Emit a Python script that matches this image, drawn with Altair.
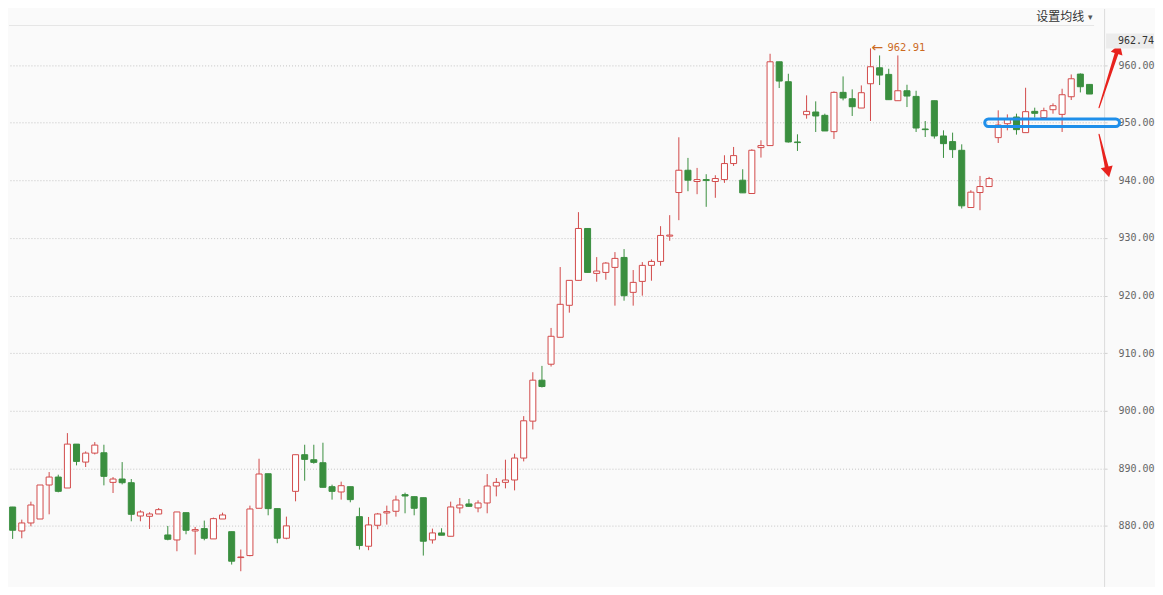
import altair as alt
import pandas as pd
import numpy as np

# ---- candle data ----
opens = [883.28, 879.12, 880.51, 881.20, 887.10, 888.48, 886.58, 894.20, 891.08, 892.64,
         892.70, 887.56, 888.14, 887.50, 881.72, 881.67, 882.07, 878.43, 877.56, 882.30,
         879.12, 879.53, 877.74, 881.20, 879.00, 874.50, 874.85, 883.06, 889.06, 883.00,
         877.86, 886.00, 892.36, 891.49, 890.97, 886.81, 885.89, 886.81, 881.61, 876.47,
         880.11, 882.25, 882.54, 885.43, 885.08, 884.90, 877.57, 878.78, 878.20, 883.12,
         883.81, 883.12, 883.98, 886.93, 887.56, 887.97, 891.78, 898.19, 905.30, 908.07,
         912.75, 918.30, 922.63, 931.64, 923.84, 924.01, 924.88, 926.61, 920.55, 922.45,
         925.23, 925.92, 930.31, 937.88, 941.75, 939.79, 940.13, 939.79, 940.13, 942.91,
         940.02, 937.71, 945.68, 946.03, 960.58, 957.12, 946.66, 951.40, 951.86, 951.28,
         948.45, 955.27, 954.17, 952.55, 956.77, 959.54, 958.39, 953.82, 955.55, 954.57,
         948.91, 953.82, 947.70, 946.72, 945.21, 935.28, 937.88, 938.92, 947.41, 949.83,
         950.99, 948.28, 951.97, 950.88, 952.26, 951.45, 954.51, 958.44, 956.65]
highs = [883.30, 881.09, 884.21, 887.10, 889.35, 888.89, 896.11, 894.20, 892.93, 894.55,
         894.09, 888.48, 891.08, 888.14, 882.71, 882.36, 883.11, 879.99, 882.42, 882.30,
         879.82, 880.92, 881.44, 882.30, 879.00, 875.90, 883.52, 891.66, 889.06, 883.00,
         881.61, 892.36, 894.09, 894.09, 894.44, 887.16, 887.68, 886.81, 883.17, 881.55,
         882.25, 883.52, 885.25, 885.77, 885.08, 884.90, 879.53, 879.59, 884.21, 884.85,
         884.67, 884.44, 889.00, 888.31, 891.49, 892.53, 899.06, 906.68, 907.78, 914.37,
         924.94, 922.63, 934.47, 931.64, 926.67, 925.80, 927.54, 928.06, 924.42, 925.80,
         926.27, 932.04, 933.95, 947.47, 943.89, 942.15, 941.06, 940.88, 944.35, 945.79,
         941.92, 945.39, 946.95, 961.97, 960.58, 958.50, 947.99, 954.75, 953.71, 951.57,
         955.44, 958.04, 955.79, 956.48, 962.91, 961.68, 959.37, 961.68, 956.59, 955.55,
         950.30, 953.82, 948.68, 948.28, 946.25, 938.28, 940.76, 940.59, 952.15, 951.45,
         951.57, 956.07, 952.61, 952.61, 953.36, 955.90, 958.38, 958.56, 956.65]
lows = [877.74, 877.85, 879.93, 881.20, 882.01, 885.83, 886.58, 890.51, 890.22, 892.41,
        887.04, 885.71, 887.21, 880.80, 880.80, 879.47, 882.07, 877.50, 875.60, 878.55,
        875.02, 877.50, 877.74, 881.20, 873.29, 872.13, 874.73, 883.06, 881.84, 876.99,
        877.68, 884.27, 887.85, 890.80, 886.70, 884.56, 884.56, 884.10, 875.89, 875.78,
        879.42, 880.23, 881.61, 882.19, 881.84, 874.85, 876.93, 878.38, 878.20, 882.19,
        883.29, 882.36, 882.19, 885.13, 886.52, 886.17, 891.20, 896.75, 904.03, 907.67,
        912.75, 917.02, 922.63, 924.01, 922.40, 922.74, 918.24, 919.10, 918.24, 919.97,
        922.57, 925.17, 929.50, 933.08, 938.11, 937.59, 935.40, 936.96, 939.56, 942.50,
        937.82, 937.71, 943.95, 946.03, 956.02, 946.55, 945.10, 950.70, 948.39, 948.57,
        947.18, 953.88, 951.17, 952.55, 950.30, 956.54, 954.00, 953.82, 952.72, 948.39,
        947.52, 947.24, 943.89, 943.89, 935.10, 935.28, 934.81, 938.92, 946.48, 948.68,
        947.93, 948.28, 950.88, 950.70, 951.57, 948.39, 953.94, 955.26, 954.98]
closes = [879.24, 880.51, 883.63, 887.10, 888.48, 886.00, 894.20, 891.20, 892.64, 894.03,
          888.60, 888.14, 887.50, 882.01, 882.42, 882.07, 882.82, 877.68, 882.42, 879.24,
          879.36, 877.85, 881.26, 881.90, 873.87, 874.60, 882.94, 889.01, 883.00, 877.86,
          880.00, 892.36, 891.55, 891.03, 886.70, 886.00, 886.98, 884.56, 876.59, 880.17,
          882.07, 882.48, 884.50, 885.19, 883.06, 877.34, 878.78, 878.38, 883.29, 883.63,
          883.40, 883.98, 886.93, 887.56, 887.97, 891.78, 898.25, 905.30, 904.20, 912.92,
          918.47, 922.63, 931.64, 924.01, 924.25, 925.63, 926.44, 919.97, 922.28, 925.23,
          925.92, 930.43, 930.49, 941.75, 940.02, 940.13, 939.96, 940.31, 942.91, 944.29,
          937.82, 945.22, 946.03, 960.58, 957.23, 946.66, 946.55, 951.97, 951.17, 948.57,
          955.27, 954.29, 952.78, 955.21, 959.72, 958.27, 954.00, 955.55, 954.63, 949.08,
          948.80, 947.70, 946.37, 945.33, 935.57, 937.94, 938.92, 940.30, 949.60, 950.70,
          948.80, 951.92, 951.63, 952.09, 952.95, 954.86, 957.63, 956.25, 954.98]

y_ticks = [880, 890, 900, 910, 920, 930, 940, 950, 960]
max_label = "962.91"
max_index = 94
max_value = 962.91
current_label = "962.74"
toolbar_label = "设置均线"

# annotation geometry (index units / price units)
box_x = [106.52, 121.29]
box_y = [950.63, 949.35]
arrow_id = ["a", "a", "b", "b"]
arrow_k = [119.05, 121.10, 119.05, 119.98]
arrow_v = [952.62, 962.70, 947.99, 941.70]
arrow_w = [1.2, 4.0, 1.2, 4.0]
head_k = [121.15, 120.02]
head_v = [962.88, 941.44]
head_ang = [17.9, 166.8]

RED = "#d24a4a"
GREEN = "#3a8f3f"
ORANGE = "#cc6a1f"
ARROW_RED = "#e8231e"
BG = "#fafafa"

n = len(opens)
df = pd.DataFrame({"k": np.arange(n), "open": opens, "high": highs, "low": lows, "close": closes})
up = df["close"] >= df["open"]
df["x1"] = df["k"] - 0.33
df["x2"] = df["k"] + 0.33
df["fillc"] = np.where(up, "#ffffff", GREEN)
df["strokec"] = np.where(up, RED, GREEN)

xscale = alt.Scale(domain=[-0.4, 119.6], nice=False, zero=False)
yscale = alt.Scale(domain=[869.48, 969.83], nice=False, zero=False)

yaxis = alt.Axis(orient="right", values=y_ticks, format=".2f", grid=True,
                 gridDash=[1, 2], gridColor="#c4c4c4", gridWidth=1,
                 tickSize=3, tickColor="#d0d0d0", domainColor="#dcdcdc",
                 labelFont="DejaVu Sans Mono", labelFontSize=10, labelColor="#666666",
                 labelPadding=11, title=None)

wick = alt.Chart(df).mark_rule(strokeWidth=1, clip=True).encode(
    x=alt.X("k:Q", scale=xscale, axis=None),
    y=alt.Y("low:Q", scale=yscale, axis=yaxis, title=None),
    y2="high:Q",
    color=alt.Color("strokec:N", scale=None),
)

body = alt.Chart(df).mark_rect(strokeWidth=1, clip=True).encode(
    x=alt.X("x1:Q", scale=xscale, axis=None),
    x2="x2:Q",
    y=alt.Y("open:Q", scale=yscale, title=None),
    y2="close:Q",
    fill=alt.Fill("fillc:N", scale=None),
    stroke=alt.Stroke("strokec:N", scale=None),
)

maxdf = pd.DataFrame({"k": [max_index], "v": [max_value], "t": [max_label]})
maxtext = alt.Chart(maxdf).mark_text(align="left", baseline="middle", dx=17,
                                     font="DejaVu Sans Mono", fontSize=10.5,
                                     color=ORANGE).encode(
    x=alt.X("k:Q", scale=xscale, axis=None),
    y=alt.Y("v:Q", scale=yscale, title=None),
    text="t:N",
)
maxline = alt.Chart(maxdf).mark_rule(color=ORANGE, strokeWidth=1).encode(
    x=alt.X("k:Q", scale=xscale, axis=None),
    y=alt.Y("v:Q", scale=yscale, title=None),
    xOffset=alt.value(2),
).transform_calculate(dummy="0")
maxarrow = alt.Chart(maxdf).mark_text(text="\u2190", align="left", baseline="middle", dx=1,
                                      font="DejaVu Sans", fontSize=14,
                                      color=ORANGE).encode(
    x=alt.X("k:Q", scale=xscale, axis=None),
    y=alt.Y("v:Q", scale=yscale, title=None),
)

boxdf = pd.DataFrame({"x1": [box_x[0]], "x2": [box_x[1]], "y1": [box_y[0]], "y2": [box_y[1]]})
box = alt.Chart(boxdf).mark_rect(fillOpacity=0, stroke="#1f8fea", strokeWidth=3,
                                 cornerRadius=4).encode(
    x=alt.X("x1:Q", scale=xscale, axis=None), x2="x2:Q",
    y=alt.Y("y1:Q", scale=yscale, title=None), y2="y2:Q",
)

arrdf = pd.DataFrame({"id": arrow_id, "k": arrow_k, "v": arrow_v, "w": arrow_w,
                      "o": [0, 1, 0, 1]})
trail = alt.Chart(arrdf).mark_trail(color=ARROW_RED).encode(
    x=alt.X("k:Q", scale=xscale, axis=None),
    y=alt.Y("v:Q", scale=yscale, title=None),
    size=alt.Size("w:Q", scale=None, legend=None),
    detail="id:N",
    order="o:Q",
)

headdf = pd.DataFrame({"k": head_k, "v": head_v, "a": head_ang})
heads = alt.Chart(headdf).mark_point(shape="triangle-up", filled=True, size=150,
                                     color=ARROW_RED, opacity=1).encode(
    x=alt.X("k:Q", scale=xscale, axis=None),
    y=alt.Y("v:Q", scale=yscale, title=None),
    angle=alt.Angle("a:Q", scale=None),
)

one = pd.DataFrame({"a": [0]})
topline = alt.Chart(one).mark_rule(color="#e6e6e6", strokeWidth=1).encode(
    x=alt.value(0), x2=alt.value(1087), y=alt.value(17))
tooltext = alt.Chart(one).mark_text(text=toolbar_label, align="right", baseline="middle",
                                    font="Noto Sans CJK SC", fontSize=12,
                                    color="#333333").encode(
    x=alt.value(1077), y=alt.value(9))
caret = alt.Chart(one).mark_text(text="\u25be", align="center", baseline="middle",
                                 fontSize=9, color="#555555").encode(
    x=alt.value(1083), y=alt.value(9))
curbox = alt.Chart(one).mark_rect(color="#ececec").encode(
    x=alt.value(1099), x2=alt.value(1147), y=alt.value(25), y2=alt.value(40))
curtext = alt.Chart(one).mark_text(text=current_label, align="left", baseline="middle",
                                   font="DejaVu Sans Mono", fontSize=10,
                                   color="#333333").encode(
    x=alt.value(1111), y=alt.value(32.5))

chart = alt.layer(
    wick, body, maxarrow, maxtext, box, trail, heads, topline, tooltext, caret, curbox, curtext
).properties(
    width=1097, height=579, padding=0, background=BG
).configure_view(strokeWidth=0)

chart.save("out.html", embed_options={"renderer": "svg", "actions": False})
